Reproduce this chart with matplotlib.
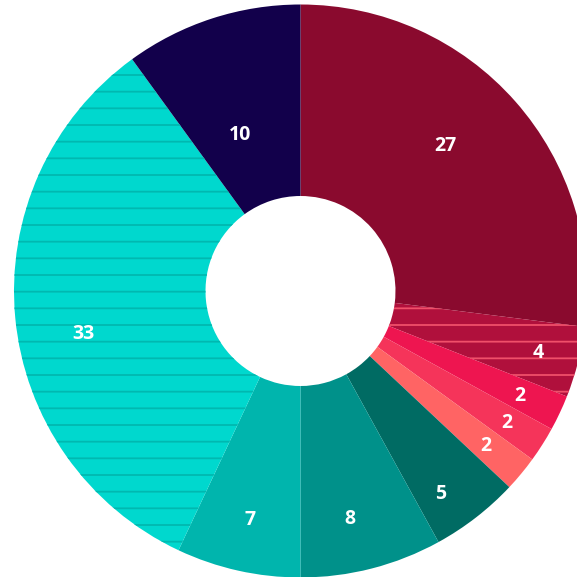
import numpy as np
import matplotlib
matplotlib.use("Agg")
import matplotlib.pyplot as plt
from matplotlib.patches import Wedge

values = [27, 4, 2, 2, 2, 5, 8, 7, 33, 10]
labels = ["27", "4", "2", "2", "2", "5", "8", "7", "33", "10"]
colors = ["#8A0A2E", "#B0103C", "#EE1550", "#F5345A", "#FF6464",
          "#006B63", "#00918A", "#00B5AD", "#00D8CE", "#12004B"]
hatches = [None, "-", None, None, None, None, None, None, "-", None]
hatch_colors = [None, "#F0506A", None, None, None, None, None, None, "#00B8B0", None]

# label layout: radius (px) and small angle tweak (deg)
label_r = [206, 245, 242, 244, 241, 245, 232, 233, 221, 169]
label_da = [-4, 0, 0, 0, 0, 3, 2, 0, -5.5, -3]

W = 577
cx, cy = 300.5, W - 291
R, r_in = 286.5, 95

fig = plt.figure(figsize=(W / 100, W / 100), dpi=100)
ax = fig.add_axes([0, 0, 1, 1])

wedges, _ = ax.pie(values, colors=colors, startangle=90, counterclock=False,
                   center=(cx, cy), radius=R,
                   wedgeprops=dict(width=R - r_in, linewidth=0))

plt.rcParams["hatch.linewidth"] = 1.3
for w, h, hc in zip(wedges, hatches, hatch_colors):
    if h:
        ov = Wedge((cx, cy), R, w.theta1, w.theta2, width=R - r_in,
                   facecolor="none", edgecolor=hc, linewidth=0, hatch=h)
        ax.add_patch(ov)

total = sum(values)
cum = 0
for v, lab, rr, da in zip(values, labels, label_r, label_da):
    mid = (cum + v / 2) / total * 360 + da
    cum += v
    t = np.deg2rad(mid)
    ax.text(cx + rr * np.sin(t), cy + rr * np.cos(t) - 1.5, lab, color="white",
            ha="center", va="center", fontsize=14, fontweight="bold",
            family=["Open Sans", "DejaVu Sans"])

ax.set_xlim(0, W)
ax.set_ylim(0, W)
ax.set_aspect("equal")
ax.axis("off")
fig.savefig("out.png", dpi=100)
